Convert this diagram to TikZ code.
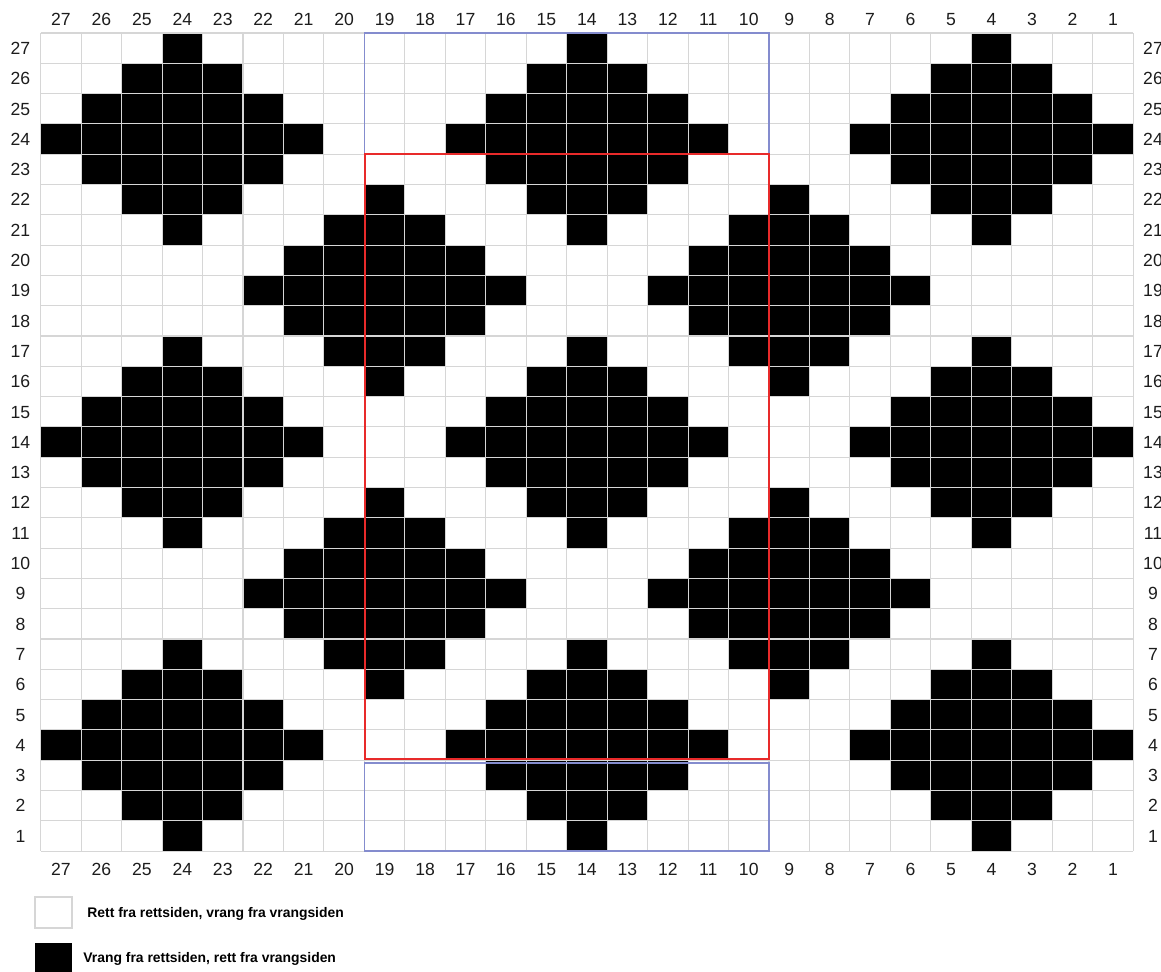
\documentclass[tikz,border=0pt]{standalone}
\usepackage{fontspec}
\setmainfont{Liberation Sans}
\usepackage{xcolor}
\usepackage{tikz}
\usetikzlibrary{calc}
\definecolor{gridline}{RGB}{214,214,214}
\definecolor{repeatred}{RGB}{232,42,42}
\definecolor{repeatblue}{RGB}{132,140,206}
\definecolor{numgray}{RGB}{28,28,28}
\tikzset{
  stitch/.style={fill=black, draw=none},
  gridrule/.style={draw=gridline, line width=0.55pt},
  numlabel/.style={
    text=numgray,
    inner sep=0pt,
    text height=6.3pt,
    text depth=0pt,
    font=\fontsize{8.8pt}{10pt}\selectfont
  },
  keytext/.style={
    anchor=west,
    inner sep=0pt,
    font=\fontsize{6.95pt}{8pt}\selectfont\bfseries
  }
}
% cell geometry in pixels of the chart
\newcommand{\gx}{40.7}
\newcommand{\gy}{33}
\newcommand{\cw}{40.46}
\newcommand{\chh}{30.3}

\begin{document}
\begin{tikzpicture}[
    x=0.5pt,
    y=-0.5pt,
    repeatbox/.style={draw=repeatred, line width=0.9pt},
    edgebox/.style={draw=repeatblue, line width=0.7pt},
    keybox/.style={minimum width=18.5pt, minimum height=15.5pt, inner sep=0pt}
  ]
  \useasboundingbox (0,0) rectangle (1161,971);

  % purl stitches: diamonds of radius 3 round stitches 4/14/24 x rows 4/14/24
  % and round stitches 9/19 x rows 9/19
  \foreach \L in {1,...,27}{
    \foreach \R in {1,...,27}{
      \pgfmathtruncatemacro{\da}{min(abs(\L-4),abs(\L-14),abs(\L-24))+min(abs(\R-4),abs(\R-14),abs(\R-24))}
      \pgfmathtruncatemacro{\db}{min(abs(\L-9),abs(\L-19))+min(abs(\R-9),abs(\R-19))}
      \ifnum\da<4
        \fill[stitch] ({\gx+\cw*(27-\L)},{\gy+\chh*(27-\R)}) rectangle ++(\cw,\chh);
      \fi
      \ifnum\db<4
        \fill[stitch] ({\gx+\cw*(27-\L)},{\gy+\chh*(27-\R)}) rectangle ++(\cw,\chh);
      \fi
    }
  }

  \foreach \i in {0,...,27}{
    \draw[gridrule] ({\gx+\cw*\i},\gy) -- ({\gx+\cw*\i},{\gy+\chh*27});
    \draw[gridrule] (\gx,{\gy+\chh*\i}) -- ({\gx+\cw*27},{\gy+\chh*\i});
  }

  \draw[edgebox] ({\gx+\cw*8},\gy) rectangle ({\gx+\cw*18},{\gy+\chh*4});
  \draw[edgebox] ({\gx+\cw*8},763) rectangle ({\gx+\cw*18},{\gy+\chh*27});
  \draw[repeatbox] ({\gx+\cw*8+1},{\gy+\chh*4}) rectangle ({\gx+\cw*18},{\gy+\chh*24-1.5});

  \foreach \n in {1,...,27}{
    \node[numlabel] (top-\n) at ({\gx+\cw*(27.5-\n)},19.5) {\n};
    \node[numlabel] (bot-\n) at ({\gx+\cw*(27.5-\n)},869) {\n};
    \node[numlabel] (lft-\n) at (20.5,{\gy+\chh*(27.5-\n)}) {\n};
    \node[numlabel] (rgt-\n) at (1153,{\gy+\chh*(27.5-\n)}) {\n};
  }

  \node[keybox, draw=gridline, line width=0.7pt, fill=white] (key-knit) at (53.5,912.5) {};
  \node[keybox, fill=black, minimum height=16pt] (key-purl) at (53,959) {};
  \node[keytext] (key-knit-text) at (87,914) {Rett fra rettsiden, vrang fra vrangsiden};
  \node[keytext] (key-purl-text) at (83,958.5) {Vrang fra rettsiden, rett fra vrangsiden};
\end{tikzpicture}
\end{document}
